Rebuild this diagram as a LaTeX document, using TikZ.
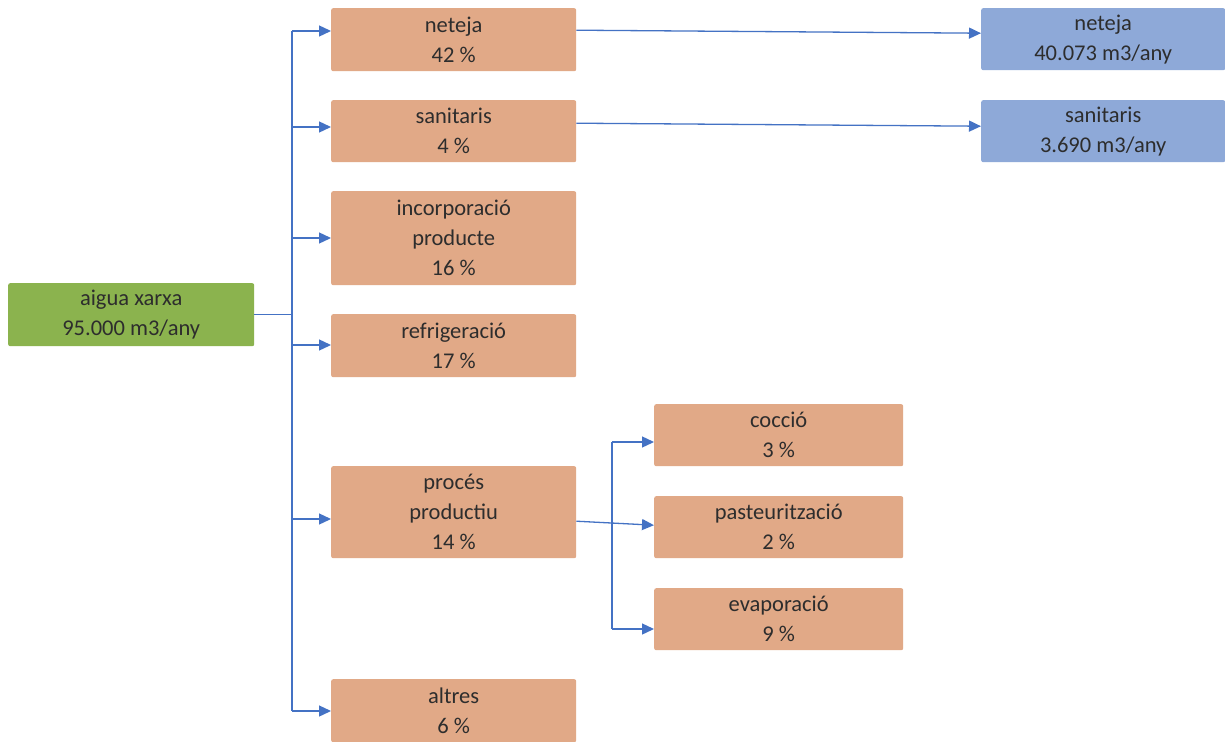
\documentclass[tikz,border=0pt]{standalone}
\usepackage{fontspec}
\setmainfont{Carlito}
\usetikzlibrary{arrows.meta}
\definecolor{boxor}{RGB}{225,169,135}
\definecolor{boxbl}{RGB}{142,169,216}
\definecolor{boxgr}{RGB}{139,179,78}
\definecolor{linebl}{RGB}{68,114,196}
\definecolor{txt}{RGB}{45,45,45}
\begin{document}
\begin{tikzpicture}[x=1pt,y=-1pt,
  box/.style={rounded corners=2pt, anchor=north west, inner sep=0pt, align=center,
    font=\fontsize{22.5}{30}\selectfont, text=txt, minimum width=245pt, minimum height=63pt},
  orbox/.style={box, fill=boxor},
  blbox/.style={box, fill=boxbl},
  grbox/.style={box, fill=boxgr},
  conn/.style={draw=linebl, line width=1.3pt},
  arr/.style={conn, -{Triangle[length=12pt,width=11pt]}}]
\useasboundingbox (0,0) rectangle (1225,741);
\fill[white] (0,0) rectangle (1225,741);
% nodes
\node[grbox, minimum width=246pt] (aigua) at (8,283) {aigua xarxa\\95.000 m3/any};
\node[orbox] (neteja) at (331,8) {neteja\\42 \%};
\node[orbox, minimum height=62pt] (sanit) at (331,100) {sanitaris\\4 \%};
\node[orbox, minimum height=94pt] (incorp) at (331,191) {incorporació\\producte\\16 \%};
\node[orbox] (refrig) at (331,314) {refrigeració\\17 \%};
\node[orbox, minimum height=92pt] (proces) at (331,466) {procés\\productiu\\14 \%};
\node[orbox, minimum height=63pt] (altres) at (331,679) {altres\\6 \%};
\node[orbox, minimum width=249pt, minimum height=62pt] (coccio) at (654,404) {cocció\\3 \%};
\node[orbox, minimum width=249pt, minimum height=62pt] (paste) at (654,496) {pasteurització\\2 \%};
\node[orbox, minimum width=249pt, minimum height=62pt] (evapo) at (654,588) {evaporació\\9 \%};
\node[blbox, minimum width=244pt, minimum height=62pt] (bneteja) at (981,8) {neteja\\40.073 m3/any};
\node[blbox, minimum width=244pt, minimum height=62pt] (bsanit) at (981,100) {sanitaris\\3.690 m3/any};
% trunk coordinates
\coordinate (t1) at (292,31);
\coordinate (t2) at (292,127);
\coordinate (t3) at (292,238);
\coordinate (t4) at (292,345);
\coordinate (t5) at (292,519);
\coordinate (t6) at (292,711);
\coordinate (s1) at (612,442);
\coordinate (s3) at (612,629);
% connectors
\draw[conn] (t1) -- (t6);
\draw[conn] (aigua.east) -- (aigua.east -| t1);
\draw[arr] (t1) -- (t1 -| neteja.west);
\draw[arr] (t2) -- (t2 -| sanit.west);
\draw[arr] (t3) -- (t3 -| incorp.west);
\draw[arr] (t4) -- (t4 -| refrig.west);
\draw[arr] (t5) -- (t5 -| proces.west);
\draw[arr] (t6) -- (t6 -| altres.west);
\draw[arr] ([yshift=9.5pt]neteja.east) -- ([yshift=6pt]bneteja.west);
\draw[arr] ([yshift=8pt]sanit.east) -- ([yshift=5pt]bsanit.west);
\draw[conn] (s1) -- (s3);
\draw[arr] ([yshift=-9pt]proces.east) -- ([yshift=2pt]paste.west);
\draw[arr] (s1) -- (s1 -| coccio.west);
\draw[arr] (s3) -- (s3 -| evapo.west);
\end{tikzpicture}
\end{document}
